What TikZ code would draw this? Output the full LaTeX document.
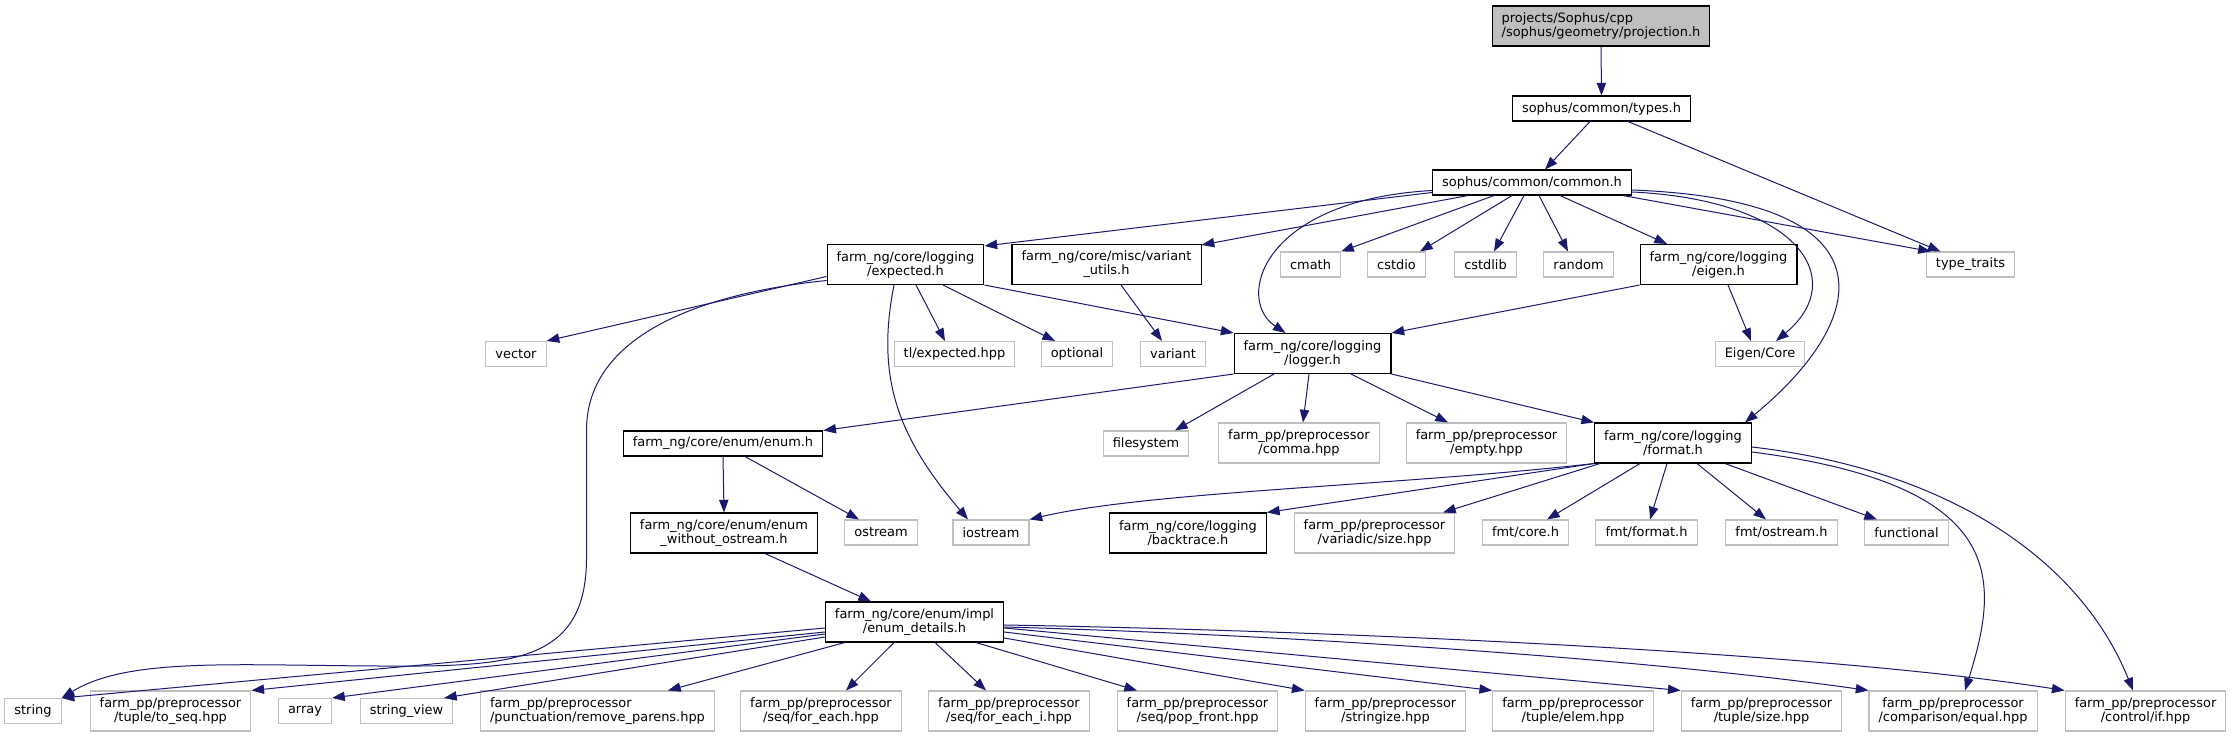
\documentclass[tikz,border=0pt]{standalone}
\usepackage{fontspec}
\setmainfont{DejaVu Sans}
\usetikzlibrary{arrows.meta,calc}
\definecolor{edgeblue}{HTML}{191970}
\definecolor{boxgray}{HTML}{BFBFBF}
\begin{document}
\begin{tikzpicture}[x=0.75pt, y=-0.75pt,
  every node/.style={font=\fontsize{9.7}{10.5}\selectfont, rectangle, align=center, inner xsep=7.2pt, inner ysep=2pt, minimum height=18.75pt, fill=white, line width=0.8pt},
  hdr/.style={draw=black},
  sys/.style={draw=boxgray},
  two/.style={minimum height=30pt},
  dep/.style={draw=edgeblue, line width=0.75pt, -{Triangle[length=9.5pt,width=7pt]}}]
\useasboundingbox (0,0) rectangle (2233,737);
\node[hdr, two, fill=boxgray, align=left] (proj) at (1601,26) {projects/Sophus/cpp\\/sophus/geometry/projection.h};
\node[hdr] (types) at (1601.5,108.5) {sophus/common/types.h};
\node[hdr] (common) at (1532,182.5) {sophus/common/common.h};
\node[hdr, two] (expct) at (905.5,264.5) {farm\_ng/core/logging\\/expected.h};
\node[hdr, two] (varu) at (1106.5,264.5) {farm\_ng/core/misc/variant\\\_utils.h};
\node[sys] (cmath) at (1310.5,264.5) {cmath};
\node[sys] (cstdio) at (1396.5,264.5) {cstdio};
\node[sys] (cstdlib) at (1485.5,264.5) {cstdlib};
\node[sys] (random) at (1578.5,264.5) {random};
\node[hdr, two] (eigen) at (1718.5,264.5) {farm\_ng/core/logging\\/eigen.h};
\node[sys] (ttraits) at (1970.5,264.5) {type\_traits};
\node[sys] (vector) at (516,354) {vector};
\node[sys] (tlexp) at (954.5,354) {tl/expected.hpp};
\node[sys] (optional) at (1077,354) {optional};
\node[sys] (variant) at (1173,354) {variant};
\node[hdr, two] (logger) at (1312.5,353.5) {farm\_ng/core/logging\\/logger.h};
\node[sys] (ecore) at (1760,354) {Eigen/Core};
\node[hdr] (enumh) at (723,443.5) {farm\_ng/core/enum/enum.h};
\node[sys] (fsys) at (1146,443.5) {filesystem};
\node[sys, two] (comma) at (1299,443) {farm\_pp/preprocessor\\/comma.hpp};
\node[sys, two] (empty) at (1486.5,443) {farm\_pp/preprocessor\\/empty.hpp};
\node[hdr, two] (format) at (1673,443) {farm\_ng/core/logging\\/format.h};
\node[hdr, two] (enumwo) at (724,533) {farm\_ng/core/enum/enum\\\_without\_ostream.h};
\node[sys] (ostream) at (881,532.5) {ostream};
\node[sys] (iostream) at (991,532.5) {iostream};
\node[hdr, two] (btrace) at (1188,533) {farm\_ng/core/logging\\/backtrace.h};
\node[sys, two] (vsize) at (1374.5,533) {farm\_pp/preprocessor\\/variadic/size.hpp};
\node[sys] (fmtcore) at (1525.5,532.5) {fmt/core.h};
\node[sys] (fmtfmt) at (1646.5,532.5) {fmt/format.h};
\node[sys] (fmtos) at (1781.5,532.5) {fmt/ostream.h};
\node[sys] (functional) at (1906.5,532.5) {functional};
\node[hdr, two] (edet) at (914.5,622) {farm\_ng/core/enum/impl\\/enum\_details.h};
\node[sys] (string) at (33,711) {string};
\node[sys, two] (toseq) at (170.5,711) {farm\_pp/preprocessor\\/tuple/to\_seq.hpp};
\node[sys] (array) at (305,711) {array};
\node[sys] (strview) at (406.5,711) {string\_view};
\node[sys, two, align=left] (rmpar) at (597.5,711) {farm\_pp/preprocessor\\/punctuation/remove\_parens.hpp};
\node[sys, two] (foreach) at (821,711) {farm\_pp/preprocessor\\/seq/for\_each.hpp};
\node[sys, two] (foreachi) at (1009,711) {farm\_pp/preprocessor\\/seq/for\_each\_i.hpp};
\node[sys, two] (popfront) at (1197.5,711) {farm\_pp/preprocessor\\/seq/pop\_front.hpp};
\node[sys, two] (stringize) at (1385.5,711) {farm\_pp/preprocessor\\/stringize.hpp};
\node[sys, two] (telem) at (1573,711) {farm\_pp/preprocessor\\/tuple/elem.hpp};
\node[sys, two] (tsize) at (1761.5,711) {farm\_pp/preprocessor\\/tuple/size.hpp};
\node[sys, two] (equal) at (1953,711) {farm\_pp/preprocessor\\/comparison/equal.hpp};
\node[sys, two] (ctrlif) at (2145.5,711) {farm\_pp/preprocessor\\/control/if.hpp};
\draw[dep] (proj.south) -- (types.north);
\draw[dep] ($(types.south)+(-11.5,0)$) -- ($(common.north)+(13,0)$);
\draw[dep] ($(types.south)+(26.5,0)$) -- ($(ttraits.north)+(-30,0)$);
\draw[dep] ($(common.west)+(0,10)$) -- ($(expct.north east)+(0,2)$);
\draw[dep] ($(common.south)+(-64,0)$) -- ($(varu.north east)+(0,1)$);
\draw[dep] ($(common.west)+(0,8)$) .. controls +(-171,9.5) and +(-50.5,-33.5) .. ($(logger.north)+(-27,0)$);
\draw[dep] ($(common.south)+(-38,0)$) -- (cmath.north east);
\draw[dep] ($(common.south)+(-20,0)$) -- ($(cstdio.north)+(23.5,0)$);
\draw[dep] ($(common.south)+(-8,0)$) -- ($(cstdlib.north)+(8.5,0)$);
\draw[dep] ($(common.south)+(7,0)$) -- ($(random.north)+(-10.5,0)$);
\draw[dep] ($(common.south)+(28,0)$) -- ($(eigen.north)+(-51.5,0)$);
\draw[dep] ($(common.east)+(0,9.5)$) .. controls +(167,8) and +(74,-61.5) .. ($(ecore.north)+(16,0)$);
\draw[dep] ($(common.east)+(0,7.5)$) .. controls +(267,10) and +(125,-103) .. ($(format.north)+(72,0)$);
\draw[dep] ($(common.south east)+(-9,0)$) -- ($(ttraits.north west)+(5,0)$);
\draw[dep] ($(expct.west)+(0,12)$) -- (vector.north east);
\draw[dep] ($(expct.west)+(0,16)$) .. controls +(-136,14) and +(0,-90) .. ++(-240,149.5) -- ++(0,127) .. controls +(0,93) and +(110,-1) .. ++(-166,109) .. controls +(-170,1) and +(71,-43.5) .. (string.north east);
\draw[dep] ($(expct.south)+(10.5,0)$) -- ($(tlexp.north)+(-9.5,0)$);
\draw[dep] ($(expct.south)+(37.5,0)$) -- ($(optional.north)+(-22,0)$);
\draw[dep] ($(expct.south)+(-11.5,0)$) .. controls +(-19,95.5) and +(-68,-80) .. ($(iostream.north)+(-23,0)$);
\draw[dep] (expct.south east) -- (logger.north west);
\draw[dep] ($(varu.south)+(14.5,0)$) -- ($(variant.north)+(-11,0)$);
\draw[dep] (eigen.south west) -- (logger.north east);
\draw[dep] ($(eigen.south)+(9.5,0)$) -- ($(ecore.north)+(-9,0)$);
\draw[dep] (logger.south west) -- (enumh.north east);
\draw[dep] ($(logger.south)+(-38.5,0)$) -- ($(fsys.north)+(29,0)$);
\draw[dep] ($(logger.south)+(-3.5,0)$) -- ($(comma.north)+(4,0)$);
\draw[dep] ($(logger.south)+(38.5,0)$) -- ($(empty.north)+(-38.5,0)$);
\draw[dep] (logger.south east) -- (format.north west);
\draw[dep] (enumh.south) -- (enumwo.north);
\draw[dep] ($(enumh.south)+(22,0)$) -- ($(ostream.north)+(-22,0)$);
\draw[dep] ($(enumwo.south)+(41,0)$) -- ($(edet.north)+(-43.5,0)$);
\draw[dep] (format.south west) .. controls +(-193,22) and +(118,-28) .. (iostream.north east);
\draw[dep] (format.south west) -- (btrace.north east);
\draw[dep] ($(format.south)+(-73,0)$) -- ($(vsize.north)+(68.5,0)$);
\draw[dep] ($(format.south)+(-33,0)$) -- ($(fmtcore.north)+(21.5,0)$);
\draw[dep] ($(format.south)+(-6,0)$) -- ($(fmtfmt.north)+(3.5,0)$);
\draw[dep] ($(format.south)+(24,0)$) -- ($(fmtos.north)+(-15.5,0)$);
\draw[dep] ($(format.south)+(52,0)$) -- ($(functional.north)+(-29.5,0)$);
\draw[dep] ($(format.east)+(0,9)$) .. controls +(257,33) and +(35,-111) .. ($(equal.north)+(12,0)$);
\draw[dep] ($(format.east)+(0,4)$) .. controls +(197,23) and +(-53,-131) .. ($(ctrlif.north)+(-12.5,0)$);
\draw[dep] ($(edet.west)+(0,6)$) -- (string.north east);
\draw[dep] ($(edet.west)+(0,10)$) -- (toseq.north east);
\draw[dep] ($(edet.west)+(0,12)$) -- (array.north east);
\draw[dep] ($(edet.west)+(0,15)$) -- ($(strview.north)+(37.5,0)$);
\draw[dep] ($(edet.south west)+(20,0)$) -- ($(rmpar.north)+(70.5,0)$);
\draw[dep] ($(edet.south)+(-20.5,0)$) -- ($(foreach.north)+(25,0)$);
\draw[dep] ($(edet.south)+(20.5,0)$) -- ($(foreachi.north)+(-23,0)$);
\draw[dep] ($(edet.south)+(61.5,0)$) -- ($(popfront.north)+(-60.5,0)$);
\draw[dep] ($(edet.east)+(0,16)$) -- (stringize.north west);
\draw[dep] ($(edet.east)+(0,10)$) -- (telem.north west);
\draw[dep] ($(edet.east)+(0,6)$) -- (tsize.north west);
\draw[dep] ($(edet.east)+(0,5)$) .. controls +(294,8) and +(-218,-31) .. (equal.north west);
\draw[dep] ($(edet.east)+(0,3)$) .. controls +(294,5) and +(-264,-41) .. (ctrlif.north west);
\end{tikzpicture}
\end{document}
